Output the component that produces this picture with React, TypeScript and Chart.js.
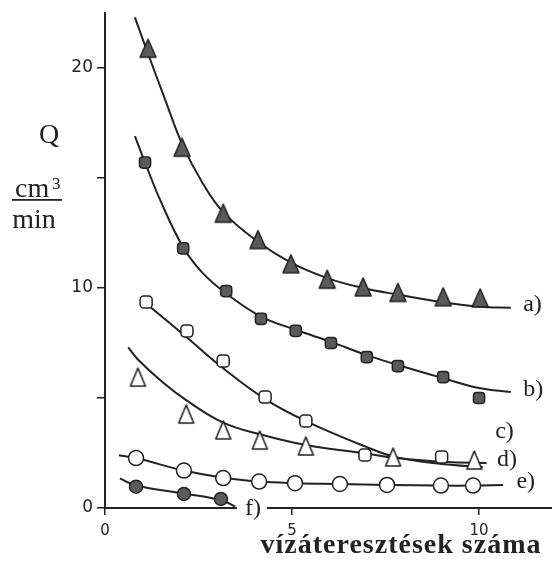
import React, { useEffect, useRef } from "react";
import { Chart, registerables } from "chart.js";

Chart.register(...registerables);

// Measured markers
const aX = [1.15, 2.06, 3.16, 4.09, 4.97, 5.94, 6.9, 7.83, 9.04, 10.03];
const aY = [20.9, 16.4, 13.4, 12.2, 11.1, 10.4, 10.05, 9.8, 9.6, 9.55];
const bX = [1.07, 2.09, 3.24, 4.17, 5.1, 6.04, 7.0, 7.83, 9.04, 10.0];
const bY = [15.7, 11.8, 9.86, 8.6, 8.05, 7.5, 6.86, 6.45, 5.95, 5.0];
const cX = [1.1, 2.19, 3.16, 4.28, 5.37, 6.95, 9.0];
const cY = [9.36, 8.05, 6.68, 5.05, 3.95, 2.41, 2.32];
const dX = [0.88, 2.17, 3.16, 4.14, 5.37, 7.7, 9.87];
const dY = [5.95, 4.27, 3.55, 3.09, 2.82, 2.32, 2.18];
const eX = [0.83, 2.11, 3.16, 4.12, 5.08, 6.28, 7.54, 8.98, 9.84];
const eY = [2.27, 1.7, 1.36, 1.2, 1.13, 1.09, 1.05, 1.02, 1.02];
const fX = [0.83, 2.11, 3.1];
const fY = [0.97, 0.64, 0.41];

// Fitted curves
const aCurveX = [0.8, 1.15, 1.6, 2.06, 2.6, 3.16, 4.09, 4.97, 5.94, 6.9, 7.83, 9.04, 10.03, 10.85];
const aCurveY = [22.3, 20.65, 18.6, 16.55, 14.8, 13.45, 12.1, 11.15, 10.45, 10.0, 9.7, 9.35, 9.15, 9.1];
const bCurveX = [0.8, 1.07, 1.5, 2.09, 2.6, 3.24, 4.17, 5.1, 6.04, 7.0, 7.83, 9.04, 10.0, 10.85];
const bCurveY = [16.9, 15.7, 13.9, 11.85, 10.7, 9.75, 8.7, 8.1, 7.55, 6.95, 6.5, 5.9, 5.45, 5.27];
const cCurveX = [1.2, 2.19, 3.16, 4.28, 5.37, 6.95, 7.8, 9.0, 10.1];
const cCurveY = [9.15, 7.75, 6.35, 4.95, 3.95, 2.8, 2.3, 2.0, 1.86];
const dCurveX = [0.62, 0.88, 1.55, 2.17, 3.16, 4.14, 5.4, 6.9, 7.8, 9.14, 10.2];
const dCurveY = [7.3, 6.75, 5.7, 4.9, 3.88, 3.35, 2.85, 2.5, 2.27, 2.09, 2.05];
const eCurveX = [0.37, 0.83, 2.11, 3.16, 4.12, 5.08, 6.28, 7.54, 8.98, 9.84, 10.64];
const eCurveY = [2.4, 2.27, 1.7, 1.37, 1.2, 1.13, 1.09, 1.05, 1.02, 1.02, 1.05];
const fCurveX = [0.4, 0.83, 2.11, 3.1, 3.48];
const fCurveY = [1.35, 1.02, 0.66, 0.36, 0.06];

// Axis ticks
const xTickLabels = [0, 5, 10];
const yTickLabels = [0, 10, 20];

// Series labels and their anchors (data units)
const seriesLabels = ["a)", "b)", "c)", "d)", "e)", "f)"];
const labelX = [11.18, 11.18, 10.43, 10.48, 11.0, 3.74];
const labelY = [9.23, 5.36, 3.45, 2.18, 1.18, -0.05];

const INK = "#222";
const DARK = "#5a5a5a";

const pts = (xs: number[], ys: number[]) => xs.map((x, i) => ({ x, y: ys[i] }));

function triangle(fill: string, w: number, h: number) {
  const c = document.createElement("canvas");
  c.width = w + 4;
  c.height = h + 4;
  const ctx = c.getContext("2d")!;
  ctx.beginPath();
  ctx.moveTo(c.width / 2, 2);
  ctx.lineTo(w + 2, h + 2);
  ctx.lineTo(2, h + 2);
  ctx.closePath();
  ctx.fillStyle = fill;
  ctx.fill();
  ctx.lineWidth = 1.6;
  ctx.strokeStyle = INK;
  ctx.lineJoin = "round";
  ctx.stroke();
  return c;
}

export default function App() {
  const ref = useRef<HTMLCanvasElement>(null);
  useEffect(() => {
    const filledTri = triangle(DARK, 16, 18);
    const openTri = triangle("#fff", 15, 18);

    const curve = (xs: number[], ys: number[]) => ({
      type: "scatter" as const,
      data: pts(xs, ys),
      showLine: true,
      borderColor: INK,
      borderWidth: 2,
      pointRadius: 0,
      tension: 0.4,
      order: 2,
    });
    const markers = (xs: number[], ys: number[], style: any, radius: number, fill: string) => ({
      type: "scatter" as const,
      data: pts(xs, ys),
      showLine: false,
      pointStyle: style,
      pointRadius: radius,
      backgroundColor: fill,
      borderColor: INK,
      borderWidth: 1.5,
      order: 1,
    });

    const annot = {
      id: "annot",
      afterDraw(chart: any) {
        const { ctx, scales } = chart;
        const xs = scales.x;
        const ys = scales.y;
        ctx.save();
        ctx.fillStyle = INK;
        ctx.textBaseline = "middle";
        ctx.textAlign = "left";
        ctx.font = "24px 'Liberation Serif'";
        seriesLabels.forEach((t, i) => {
          const px = xs.getPixelForValue(labelX[i]);
          const py = ys.getPixelForValue(labelY[i]);
          if (t === "f)") {
            ctx.fillStyle = "#fff";
            ctx.fillRect(px - 8, py - 10, 30, 20);
            ctx.fillStyle = INK;
          }
          ctx.fillText(t, px, py);
        });
        // y title
        ctx.textAlign = "center";
        ctx.textBaseline = "alphabetic";
        ctx.font = "28px 'Liberation Serif'";
        ctx.fillText("Q", 49, 143);
        ctx.textAlign = "left";
        ctx.fillText("cm", 15, 197);
        ctx.font = "17px 'Liberation Serif'";
        ctx.fillText("3", 52, 189);
        ctx.fillRect(12, 199, 50, 1.8);
        ctx.textAlign = "center";
        ctx.font = "28px 'Liberation Serif'";
        ctx.fillText("min", 34, 228);
        // x title
        ctx.font = "bold 28px 'Liberation Serif'";
        (ctx as any).letterSpacing = "1px";
        ctx.fillText("vízáteresztések száma", 401, 553);
        ctx.restore();
      },
    };

    const chart = new Chart(ref.current!, {
      type: "scatter",
      data: {
        datasets: [
          markers(aX, aY, filledTri, 9, DARK),
          markers(bX, bY, "rectRounded", 6.5, DARK),
          markers(cX, cY, "rectRounded", 7, "#fff"),
          markers(dX, dY, openTri, 9, "#fff"),
          markers(eX, eY, "circle", 7.5, "#fff"),
          markers(fX, fY, "circle", 6.5, DARK),
          curve(aCurveX, aCurveY),
          curve(bCurveX, bCurveY),
          curve(cCurveX, cCurveY),
          curve(dCurveX, dCurveY),
          curve(eCurveX, eCurveY),
          curve(fCurveX, fCurveY),
        ] as any,
      },
      options: {
        animation: false,
        responsive: false,
        layout: { autoPadding: false, padding: { top: 13, right: 0, left: 0, bottom: 0 } },
        plugins: { legend: { display: false }, tooltip: { enabled: false } },
        scales: {
          x: {
            type: "linear",
            min: 0,
            max: 11.95,
            afterFit: (s: any) => {
              s.height = 56;
              s.paddingLeft = 0;
              s.paddingRight = 0;
            },
            border: { display: true, color: INK, width: 2 },
            grid: { display: true, drawOnChartArea: false, drawTicks: true, tickLength: 7, color: INK, lineWidth: 1.5 },
            ticks: {
              stepSize: 5,
              includeBounds: false,
              padding: 7,
              color: INK,
              font: { family: "'DejaVu Sans'", size: 15 },
              maxRotation: 0,
              callback: (v: any) => (xTickLabels.includes(Number(v)) ? String(v) : ""),
            },
          },
          y: {
            type: "linear",
            min: 0,
            max: 22.5,
            afterFit: (s: any) => {
              s.width = 105;
              s.paddingTop = 0;
              s.paddingBottom = 0;
            },
            border: { display: true, color: INK, width: 2 },
            grid: { display: true, drawOnChartArea: false, drawTicks: true, tickLength: 8, color: INK, lineWidth: 1.5 },
            ticks: {
              stepSize: 5,
              includeBounds: false,
              padding: 4,
              color: INK,
              font: { family: "'DejaVu Sans'", size: 17 },
              callback: (v: any) => (yTickLabels.includes(Number(v)) ? String(v) : ""),
            },
          },
        },
      },
      plugins: [annot],
    } as any);
    return () => chart.destroy();
  }, []);
  return (
    <div style={{ position: "fixed", left: 0, top: 0, width: 552, height: 564, background: "#fff" }}>
      <canvas ref={ref} width={552} height={564} />
    </div>
  );
}
